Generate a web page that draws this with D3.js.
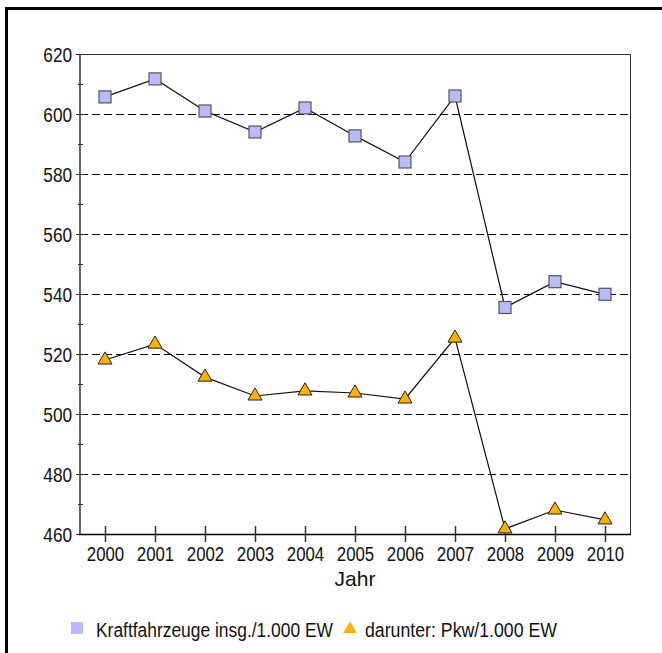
<!DOCTYPE html>
<html>
<head>
<meta charset="utf-8">
<script src="https://cdn.jsdelivr.net/npm/d3@7"></script>
<style>
  html, body { margin: 0; padding: 0; background: #fff; }
  svg { display: block; }
  .lbl { font-family: "Liberation Sans", Arial, sans-serif; }
</style>
</head>
<body>
<script>
// Kfz-Bestand je 1.000 Einwohner, 2000–2010
const years = ["2000", "2001", "2002", "2003", "2004", "2005", "2006", "2007", "2008", "2009", "2010"];
const kfzValues = [605.7, 611.7, 601.0, 594.0, 602.0, 592.7, 584.0, 606.0, 535.5, 544.1, 539.9];
const pkwValues = [518.0, 523.3, 512.3, 506.0, 507.7, 507.0, 505.0, 525.3, 461.7, 468.0, 464.7];
const yTicks = [460, 480, 500, 520, 540, 560, 580, 600, 620];
const yMinorTicks = [470, 490, 510, 530, 550, 570, 590, 610];
const gridValues = [480, 500, 520, 540, 560, 580, 600];
const seriesNames = ["Kraftfahrzeuge insg./1.000 EW", "darunter: Pkw/1.000 EW"];
const xTitle = "Jahr";

const W = 662, H = 653;
const plot = { left: 80, right: 630, top: 54, bottom: 534 };

const svg = d3.select("body").append("svg").attr("width", W).attr("height", H);

// condensed look for labels: squeeze glyphs horizontally
function condense(sel, ratio) {
  sel.each(function () {
    const w = this.getComputedTextLength();
    d3.select(this).attr("textLength", w * ratio).attr("lengthAdjust", "spacingAndGlyphs");
  });
}

// outer frame (left and top edges visible)
svg.append("rect")
  .attr("x", 6.5).attr("y", 8.5)
  .attr("width", W + 20).attr("height", H + 20)
  .attr("fill", "none").attr("stroke", "#000").attr("stroke-width", 3);

const x = d3.scalePoint().domain(years).range([plot.left, plot.right]).padding(0.5);
const y = d3.scaleLinear().domain([460, 620]).range([plot.bottom, plot.top]);

// dashed gridlines
svg.append("g").selectAll("line").data(gridValues).join("line")
  .attr("x1", plot.left).attr("x2", plot.right)
  .attr("y1", d => Math.round(y(d)) + 0.5).attr("y2", d => Math.round(y(d)) + 0.5)
  .attr("stroke", "#000").attr("stroke-width", 1.2).attr("stroke-dasharray", "8,4");

// top and right frame of the plot area
svg.append("path")
  .attr("d", `M${plot.left},${plot.top + 0.5}H${plot.right + 0.5}V${plot.bottom}`)
  .attr("fill", "none").attr("stroke", "#333").attr("stroke-width", 1);

// y axis
const yAxis = svg.append("g").attr("transform", `translate(${plot.left},0)`);
yAxis.call(d3.axisLeft(y).tickValues(yTicks).tickSize(0).tickPadding(8))
  .call(g => g.select(".domain").remove());
yAxis.selectAll("text").attr("class", "lbl").style("font-size", "20px").attr("fill", "#111").attr("dy", "0.36em")
  .call(condense, 0.86);
yAxis.append("line").attr("x1", 0).attr("x2", 0).attr("y1", plot.top).attr("y2", plot.bottom)
  .attr("stroke", "#666").attr("stroke-width", 2);
yAxis.selectAll(".major").data(yTicks).join("line").attr("class", "major")
  .attr("x1", -4).attr("x2", 5)
  .attr("y1", d => Math.round(y(d)) + 0.5).attr("y2", d => Math.round(y(d)) + 0.5)
  .attr("stroke", "#333");
yAxis.selectAll(".minor").data(yMinorTicks).join("line").attr("class", "minor")
  .attr("x1", -2).attr("x2", 3)
  .attr("y1", d => Math.round(y(d)) + 0.5).attr("y2", d => Math.round(y(d)) + 0.5)
  .attr("stroke", "#333");

// x axis
const xAxis = svg.append("g").attr("transform", `translate(0,${plot.bottom})`);
xAxis.call(d3.axisBottom(x).tickSize(0).tickPadding(13))
  .call(g => g.select(".domain").remove());
xAxis.selectAll("text").attr("class", "lbl").style("font-size", "20px").attr("fill", "#111")
  .call(condense, 0.84);
xAxis.append("line").attr("x1", plot.left - 1).attr("x2", plot.right + 1).attr("y1", 0.5).attr("y2", 0.5)
  .attr("stroke", "#000").attr("stroke-width", 1.5);
xAxis.selectAll(".tk").data(years).join("line").attr("class", "tk")
  .attr("x1", d => Math.round(x(d)) + 0.5).attr("x2", d => Math.round(x(d)) + 0.5)
  .attr("y1", -8).attr("y2", 8)
  .attr("stroke", "#333").attr("stroke-width", 1.5);

svg.append("text")
  .attr("class", "lbl")
  .attr("x", 355).attr("y", 586)
  .attr("text-anchor", "middle")
  .style("font-size", "21px").attr("fill", "#111")
  .text(xTitle);

// series lines
const line = d3.line().x((d, i) => x(years[i])).y(d => y(d));
svg.append("path").datum(kfzValues).attr("d", line)
  .attr("fill", "none").attr("stroke", "#111").attr("stroke-width", 1.2);
svg.append("path").datum(pkwValues).attr("d", line)
  .attr("fill", "none").attr("stroke", "#111").attr("stroke-width", 1.2);

// square markers
const sq = 12;
svg.append("g").selectAll("rect").data(kfzValues).join("rect")
  .attr("x", (d, i) => x(years[i]) - sq / 2)
  .attr("y", d => y(d) - sq / 2)
  .attr("width", sq).attr("height", sq)
  .attr("fill", "#b8bcff").attr("stroke", "#555").attr("stroke-width", 1.2);

// triangle markers
const tri = d3.symbol().type(d3.symbolTriangle).size(85);
svg.append("g").selectAll("path").data(pkwValues).join("path")
  .attr("d", tri)
  .attr("transform", (d, i) => `translate(${x(years[i])},${y(d)})`)
  .attr("fill", "#ffb000").attr("stroke", "#222").attr("stroke-width", 1);

// legend
const legend = svg.append("g");
legend.append("rect").attr("x", 71).attr("y", 622).attr("width", 12).attr("height", 12).attr("fill", "#b8bcff");
legend.append("text").attr("class", "lbl").attr("x", 96).attr("y", 637)
  .style("font-size", "20px").attr("fill", "#111").text(seriesNames[0])
  .attr("textLength", 237).attr("lengthAdjust", "spacingAndGlyphs");
legend.append("path").attr("d", d3.symbol().type(d3.symbolTriangle).size(80))
  .attr("transform", "translate(350,629)").attr("fill", "#ffb000");
legend.append("text").attr("class", "lbl").attr("x", 365).attr("y", 637)
  .style("font-size", "20px").attr("fill", "#111").text(seriesNames[1])
  .attr("textLength", 192).attr("lengthAdjust", "spacingAndGlyphs");
</script>
</body>
</html>
